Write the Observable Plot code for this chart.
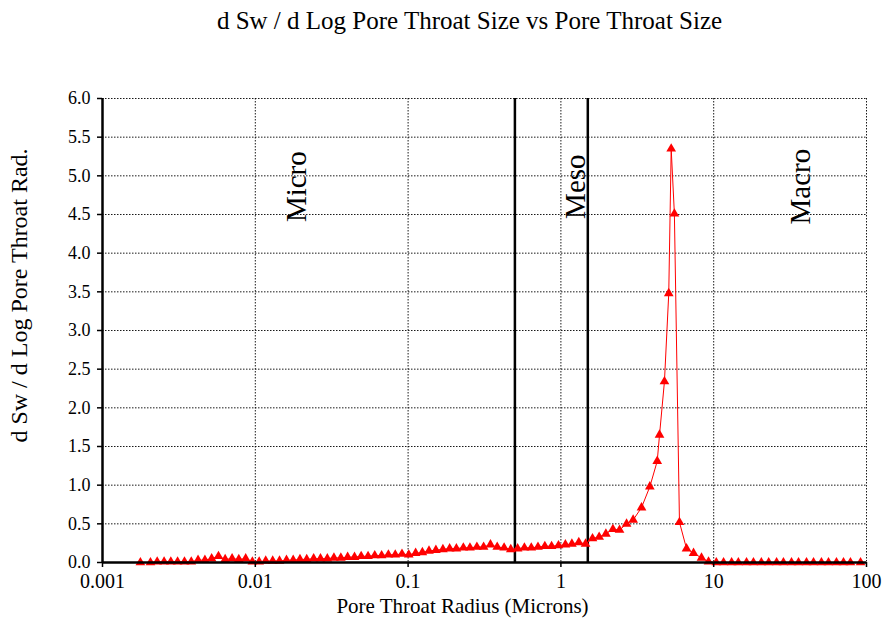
<!DOCTYPE html>
<html>
<head>
<meta charset="utf-8">
<script src="https://cdn.jsdelivr.net/npm/d3@7"></script>
<script src="https://cdn.jsdelivr.net/npm/@observablehq/plot@0.6"></script>
<style>
  body { margin: 0; background: #fff; }
  #chart svg { display: block; }
</style>
</head>
<body>
<div id="chart"></div>
<script>
// Pore throat radius (microns)
const radius = [
  0.00177, 0.00206, 0.00228, 0.00253, 0.00280, 0.00310, 0.00344, 0.00381, 0.00422, 0.00468,
  0.00518, 0.00574, 0.00635, 0.00705, 0.00780, 0.00865, 0.00957, 0.0106, 0.0117, 0.0130,
  0.0144, 0.0160, 0.0177, 0.0196, 0.0217, 0.0241, 0.0267, 0.0296, 0.0327, 0.0363,
  0.0402, 0.0446, 0.0493, 0.0547, 0.0605, 0.0671, 0.0743, 0.0824, 0.0912, 0.101,
  0.112, 0.124, 0.137, 0.152, 0.169, 0.187, 0.207, 0.230, 0.254, 0.282,
  0.312, 0.346, 0.383, 0.425, 0.470, 0.521, 0.577, 0.640, 0.708, 0.785,
  0.869, 0.964, 1.07, 1.18, 1.31, 1.45, 1.61, 1.78, 1.97, 2.19,
  2.42, 2.69, 2.97, 3.37, 3.82, 4.27, 4.42, 4.76, 5.08, 5.27,
  5.53, 5.97, 6.64, 7.38, 8.32, 9.25, 10.4, 11.6, 13.1, 14.5,
  16.4, 18.2, 20.5, 22.9, 25.8, 28.6, 32.3, 35.9, 40.5, 45.0,
  50.7, 56.4, 63.6, 70.7, 78.5, 91.4
];

// d Sw / d log(pore throat radius)
const dSw = [
  0.00, 0.00, 0.01, 0.01, 0.01, 0.01, 0.01, 0.01, 0.03, 0.03,
  0.05, 0.08, 0.04, 0.05, 0.04, 0.05, 0.01, 0.01, 0.02, 0.02,
  0.02, 0.03, 0.03, 0.04, 0.04, 0.05, 0.05, 0.05, 0.06, 0.06,
  0.07, 0.07, 0.08, 0.08, 0.09, 0.09, 0.10, 0.10, 0.11, 0.10,
  0.12, 0.13, 0.15, 0.16, 0.17, 0.18, 0.18, 0.19, 0.19, 0.20,
  0.20, 0.23, 0.20, 0.19, 0.17, 0.18, 0.19, 0.19, 0.20, 0.21,
  0.21, 0.22, 0.23, 0.24, 0.26, 0.24, 0.31, 0.33, 0.37, 0.43,
  0.42, 0.50, 0.55, 0.71, 0.98, 1.31, 1.65, 2.34, 3.48, 5.35,
  4.51, 0.52, 0.18, 0.12, 0.06, 0.01, 0.00, 0.00, 0.00, 0.00,
  0.00, 0.00, 0.00, 0.00, 0.00, 0.00, 0.00, 0.00, 0.00, 0.00,
  0.00, 0.00, 0.00, 0.00, 0.00, 0.00
];

// Axis ticks and labels
const xTicks = [0.001, 0.01, 0.1, 1, 10, 100];
const xTickLabels = ["0.001", "0.01", "0.1", "1", "10", "100"];
const yTicks = [0, 0.5, 1, 1.5, 2, 2.5, 3, 3.5, 4, 4.5, 5, 5.5, 6];

// Pore-size class boundaries (microns) and class names
const classBounds = [0.5, 1.5];
const classNames = ["Micro", "Meso", "Macro"];
const classAt = [0.0186, 1.25, 37]; // radius where each class name sits
const classNameY = 4.86;

const titleText = "d Sw / d Log Pore Throat Size vs Pore Throat Size";
const xTitle = "Pore Throat Radius (Microns)";
const yTitle = "d Sw / d Log Pore Throat Rad.";

const points = radius.map((r, i) => ({ r, v: dSw[i] }));
const classLabels = classNames.map((name, i) => ({ name, x: classAt[i], y: classNameY }));
const xLabelOf = new Map(xTicks.map((t, i) => [t, xTickLabels[i]]));

const serif = "'Liberation Serif', 'Times New Roman', Times, serif";

const chart = Plot.plot({
  width: 883,
  height: 621,
  marginLeft: 102,
  marginRight: 17,
  marginTop: 98,
  marginBottom: 59,
  style: { fontFamily: serif, fontSize: "18px", color: "#000", background: "#fff" },
  x: { type: "log", domain: [0.001, 100] },
  y: { domain: [0, 6] },
  marks: [
    // dotted gridlines
    Plot.ruleY(yTicks.filter(d => d > 0), { stroke: "#000", strokeWidth: 1, strokeDasharray: "1.5,1.5", strokeOpacity: 0.9 }),
    Plot.ruleX(xTicks.filter(d => d > 0.001), { stroke: "#000", strokeWidth: 1, strokeDasharray: "1.5,1.5", strokeOpacity: 0.9 }),
    // class boundaries
    Plot.ruleX(classBounds, { stroke: "#000", strokeWidth: 2.5 }),
    // class names
    Plot.text(classLabels, {
      x: "x", y: "y", text: "name", rotate: -90,
      fontSize: 29, fill: "#000", textAnchor: "middle", lineAnchor: "middle"
    }),
    // curve and markers
    Plot.line(points, { x: "r", y: "v", stroke: "#ff0000", strokeWidth: 1 }),
    Plot.dot(points, { x: "r", y: "v", symbol: "triangle", r: 3.6, fill: "#ff0000", stroke: "none" }),
    // axis lines
    Plot.ruleX([0.001], { stroke: "#000", strokeWidth: 2.5 }),
    Plot.ruleY([0], { stroke: "#000", strokeWidth: 2.5 }),
    // axes
    Plot.axisX(xTicks, {
      tickSize: 5, tickPadding: 6, tickFormat: d => xLabelOf.get(d),
      fontSize: 20, label: null, strokeWidth: 1.5
    }),
    Plot.axisY(yTicks, {
      tickSize: 5, tickPadding: 7, tickFormat: d => d.toFixed(1),
      fontSize: 18, label: null, strokeWidth: 1.5
    }),
    // titles
    Plot.text([titleText], { frameAnchor: "top", dx: -15, dy: -78, fontSize: 25, fill: "#000", textAnchor: "middle", lineAnchor: "middle" }),
    Plot.text([xTitle], { frameAnchor: "bottom", dx: -22, dy: 44, fontSize: 21, fill: "#000", textAnchor: "middle", lineAnchor: "middle" }),
    Plot.text([yTitle], { frameAnchor: "left", dx: -83, dy: -35, rotate: -90, fontSize: 24, fill: "#000", textAnchor: "middle", lineAnchor: "middle" })
  ]
});

document.getElementById("chart").appendChild(chart);
</script>
</body>
</html>
